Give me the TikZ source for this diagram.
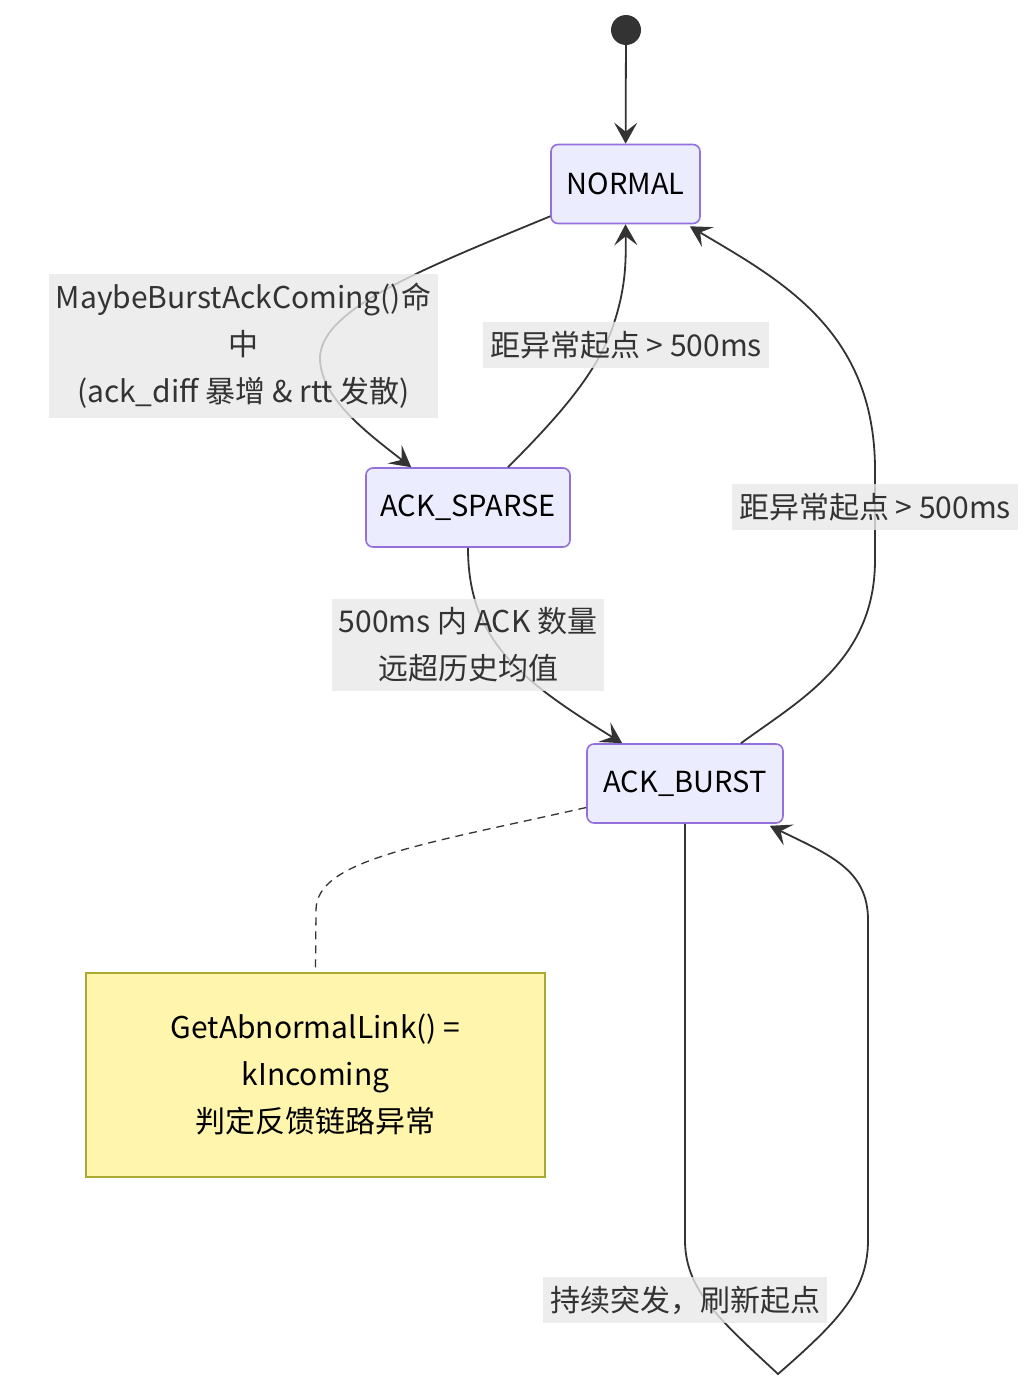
\documentclass[tikz,border=0pt]{standalone}
\usepackage{fontspec}
\setmainfont{Noto Sans CJK SC}
\usepackage{tikz}
\usetikzlibrary{arrows.meta,calc}
\definecolor{statefill}{HTML}{ECECFF}
\definecolor{stateline}{HTML}{9370DB}
\definecolor{edgecol}{HTML}{333333}
\definecolor{labelbg}{HTML}{E8E8E8}
\definecolor{notefill}{HTML}{FFF5AD}
\definecolor{noteline}{HTML}{AAAA33}
\begin{document}
\begin{tikzpicture}[x=1pt,y=-1pt]
\tikzset{state/.style = {draw=stateline,fill=statefill,line width=1.6pt,rounded corners=7pt,minimum height=79pt,inner sep=0pt,font=\fontsize{29}{34}\selectfont}}
\tikzset{edge/.style = {draw=edgecol,line width=1.8pt,-{Stealth[length=21pt,width=23pt,inset=9pt]}}}
\tikzset{elabel/.style = {fill=labelbg,fill opacity=0.8,text opacity=1,text=edgecol,inner xsep=7pt,inner ysep=9pt,align=center,font=\fontsize{30}{47}\selectfont}}
\tikzset{note/.style = {draw=noteline,fill=notefill,line width=1.6pt,minimum width=459pt,minimum height=204pt,align=center,font=\fontsize{30}{47}\selectfont}}
\useasboundingbox (0,0) rectangle (1034,1392);
% vertices
\node[circle,fill=edgecol,minimum size=30pt,inner sep=0pt] (start) at (626,30) {};
\node[state,minimum width=149pt] (normal) at (625.5,184) {NORMAL};
\node[state,minimum width=204pt] (sparse) at (468,507.5) {ACK\_SPARSE};
\node[state,minimum width=196pt] (burst) at (685,783.5) {ACK\_BURST};
\node[note] (abnormal) at (315.5,1075) {GetAbnormalLink() =\\kIncoming\\判定反馈链路异常};
\coordinate (loopbot) at (778,1374);
%edges
\draw[edge] (start) -- (normal);
\draw[edge] ($(normal.south west)+(0,-8)$) .. controls (420,270) and (318,310) .. (320,360)
  .. controls (322,400) and (370,435) .. ($(sparse.north west)+(46,0)$);
\draw[edge] ($(sparse.north)+(40,0)$) .. controls (560,415) and (600,370) .. (615,320)
  .. controls (626,285) and (626,260) .. (normal.south);
\draw[edge] ($(burst.north)+(56,0)$) .. controls (800,700) and (875,660) .. (875,560) -- (875,470)
  .. controls (875,330) and (780,280) .. ($(normal.south east)+(-11,2)$);
\draw[edge] (sparse.south) .. controls (468,640) and (520,680) .. ($(burst.north west)+(36,0)$);
\draw[edge] (burst.south) -- (685,1240) .. controls (685,1290) and (720,1320) .. (loopbot)
  .. controls (840,1320) and (868,1290) .. (868,1240) -- (868,920)
  .. controls (868,870) and (830,855) .. ($(burst.south east)+(-14,2)$);
\draw[edgecol,line width=1.3pt,dash pattern=on 8pt off 6pt] ($(burst.west)+(0,24)$) .. controls (420,845) and (316,860) .. (316,910) -- (abnormal.north);
% labels
\node[elabel] (lbl1) at (243.5,346) {MaybeBurstAckComing()命\\中\\(ack\_diff 暴增 \& rtt 发散)};
\node[elabel] (lbl2) at (626,345) {距异常起点 > 500ms};
\node[elabel] (lbl3) at (875,507) {距异常起点 > 500ms};
\node[elabel] (lbl4) at (468,645) {500ms 内 ACK 数量\\远超历史均值};
\node[elabel] (lbl5) at (685,1300) {持续突发，刷新起点};
\end{tikzpicture}
\end{document}
